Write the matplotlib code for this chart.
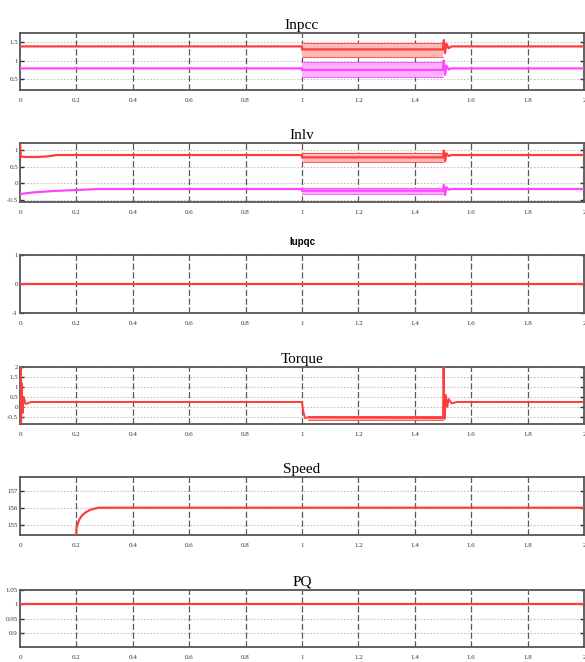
import matplotlib
matplotlib.use('Agg')
import matplotlib.pyplot as plt
import numpy as np

W, H = 585, 662
RED = '#ff3b3b'
MAG = '#ff44ff'
xticks = [0, 0.2, 0.4, 0.6, 0.8, 1, 1.2, 1.4, 1.6, 1.8, 2]
xtick_labels = ['0', '0.2', '0.4', '0.6', '0.8', '1', '1.2', '1.4', '1.6', '1.8', '2']

# Inpcc
inpcc_red_t = [0, 1.0, 1.0, 1.5, 1.503, 1.507, 1.512, 1.52, 1.53, 2.0]
inpcc_red_v = [1.38, 1.38, 1.30, 1.30, 1.55, 1.20, 1.45, 1.33, 1.38, 1.38]
inpcc_mag_t = [0, 1.0, 1.0, 1.5, 1.503, 1.507, 1.512, 1.52, 1.53, 2.0]
inpcc_mag_v = [0.79, 0.79, 0.75, 0.75, 1.00, 0.62, 0.86, 0.76, 0.79, 0.79]
inpcc_band_t = [1.0, 1.5]
inpcc_red_lo, inpcc_red_hi = [1.10, 1.10], [1.47, 1.47]
inpcc_mag_lo, inpcc_mag_hi = [0.55, 0.55], [0.97, 0.97]

# Inlv
inlv_red_t = [0, 0.003, 0.02, 0.06, 0.10, 0.13, 1.0, 1.0, 1.5, 1.503, 1.507, 1.512, 1.52, 1.53, 2.0]
inlv_red_v = [1.20, 0.80, 0.79, 0.79, 0.81, 0.85, 0.85, 0.78, 0.78, 0.98, 0.66, 0.90, 0.82, 0.85, 0.85]
inlv_mag_t = [0, 0.05, 0.12, 0.20, 0.28, 1.0, 1.0, 1.5, 1.503, 1.507, 1.512, 1.52, 1.53, 2.0]
inlv_mag_v = [-0.32, -0.27, -0.23, -0.20, -0.17, -0.17, -0.22, -0.22, -0.05, -0.35, -0.12, -0.19, -0.17, -0.17]
inlv_band_t = [1.0, 1.5]
inlv_red_lo, inlv_red_hi = [0.64, 0.64], [0.91, 0.91]
inlv_mag_lo, inlv_mag_hi = [-0.32, -0.32], [-0.14, -0.14]

# Iupqc
iupqc_t = [0, 2.0]
iupqc_v = [0, 0]

# Torque
torque_t = [0, 0.002, 0.004, 0.006, 0.009, 0.013, 0.02, 0.04, 1.0, 1.003, 1.01, 1.02,
            1.5, 1.502, 1.505, 1.51, 1.515, 1.52, 1.53, 1.55, 2.0]
torque_v = [-0.85, 2.0, -0.8, 1.2, -0.3, 0.5, 0.15, 0.25, 0.25, -0.1, -0.55, -0.52,
            -0.55, 2.0, -0.6, 0.6, 0.0, 0.4, 0.18, 0.25, 0.25]
torque_band_t = [1.02, 1.5]
torque_lo, torque_hi = [-0.65, -0.65], [-0.45, -0.45]

# Speed
speed_t = [0, 0.196, 0.2, 0.21, 0.22, 0.235, 0.25, 0.265, 0.28, 0.3, 2.0]
speed_v = [150, 150, 154.8, 155.3, 155.55, 155.75, 155.88, 155.95, 156.0, 156.0, 156.0]

# PQ
pq_t = [0, 2.0]
pq_v = [1.0, 1.0]


def make_ax(top, bottom, ylim, yticks, ylabels, title, bold=False, pad=3):
    ax = fig.add_axes([20 / W, 1 - bottom / H, 564 / W, (bottom - top) / H])
    ax.set_xlim(0, 2)
    ax.set_ylim(*ylim)
    ax.set_xticks(xticks)
    ax.set_xticklabels(xtick_labels, fontsize=5, family='Liberation Serif')
    ax.set_yticks(yticks)
    ax.set_yticklabels(ylabels, fontsize=5, family='Liberation Serif')
    ax.tick_params(axis='x', length=0, pad=6, colors='#333333')
    ax.tick_params(axis='y', direction='in', length=3, width=1, pad=1.5,
                   right=True, colors='#333333')
    for y in yticks:
        ax.axhline(y, color='#c4c4c4', lw=0.8, ls=(0, (1.5, 1.5)), zorder=0)
    for x in xticks[1:-1]:
        ax.axvline(x, color='#5a5a5a', lw=0.9, ls=(0, (5, 2)), zorder=0)
    for s in ax.spines.values():
        s.set_color('#555555')
        s.set_linewidth(1.3)
    if bold:
        ax.set_title(title, fontsize=7, fontweight='bold', family='Liberation Sans', pad=pad)
    else:
        ax.set_title(title, fontsize=11, family='Liberation Serif', pad=pad)
    return ax


def band(ax, t, lo, hi, color, light):
    ax.fill_between(t, lo, hi, color=light, lw=0, zorder=2)
    ax.plot(t, lo, color=color, lw=0.6, zorder=3)
    ax.plot(t, hi, color=color, lw=0.6, zorder=3)


fig = plt.figure(figsize=(W / 100, H / 100), dpi=100)

ax1 = make_ax(33, 90, (0.21, 1.74), [1.5, 1, 0.5], ['1.5', '1', '0.5'], 'Inpcc')
ax1.plot(inpcc_red_t, inpcc_red_v, color=RED, lw=1.6, zorder=3)
ax1.plot(inpcc_mag_t, inpcc_mag_v, color=MAG, lw=1.6, zorder=3)
band(ax1, inpcc_band_t, inpcc_red_lo, inpcc_red_hi, RED, '#ffb8b8')
band(ax1, inpcc_band_t, inpcc_mag_lo, inpcc_mag_hi, MAG, '#ffb0ff')

ax2 = make_ax(143, 202, (-0.56, 1.21), [1, 0.5, 0, -0.5], ['1', '0.5', '0', '-0.5'], 'Inlv')
ax2.plot(inlv_red_t, inlv_red_v, color=RED, lw=1.6, zorder=3)
ax2.plot(inlv_mag_t, inlv_mag_v, color=MAG, lw=1.6, zorder=3)
band(ax2, inlv_band_t, inlv_red_lo, inlv_red_hi, RED, '#ffb8b8')
band(ax2, inlv_band_t, inlv_mag_lo, inlv_mag_hi, MAG, '#ffb0ff')

ax3 = make_ax(255, 313, (-1, 1), [1, 0, -1], ['1', '0', '-1'], 'Iupqc', bold=True, pad=7)
ax3.plot(iupqc_t, iupqc_v, color=RED, lw=1.6, zorder=3)

ax4 = make_ax(367, 424, (-0.85, 2.0), [2, 1.5, 1, 0.5, 0, -0.5],
              ['2', '1.5', '1', '0.5', '0', '-0.5'], 'Torque')
ax4.plot(torque_t, torque_v, color=RED, lw=1.4, zorder=3)
band(ax4, torque_band_t, torque_lo, torque_hi, RED, '#ffb8b8')

ax5 = make_ax(477, 535, (154.4, 157.8), [157, 156, 155], ['157', '156', '155'], 'Speed')
ax5.plot(speed_t, speed_v, color=RED, lw=1.6, zorder=3)

ax6 = make_ax(590, 647, (0.853, 1.05), [1.05, 1, 0.95, 0.9],
              ['1.05', '1', '0.95', '0.9'], 'PQ')
ax6.plot(pq_t, pq_v, color=RED, lw=1.6, zorder=3)

fig.savefig('out.png', dpi=100)
